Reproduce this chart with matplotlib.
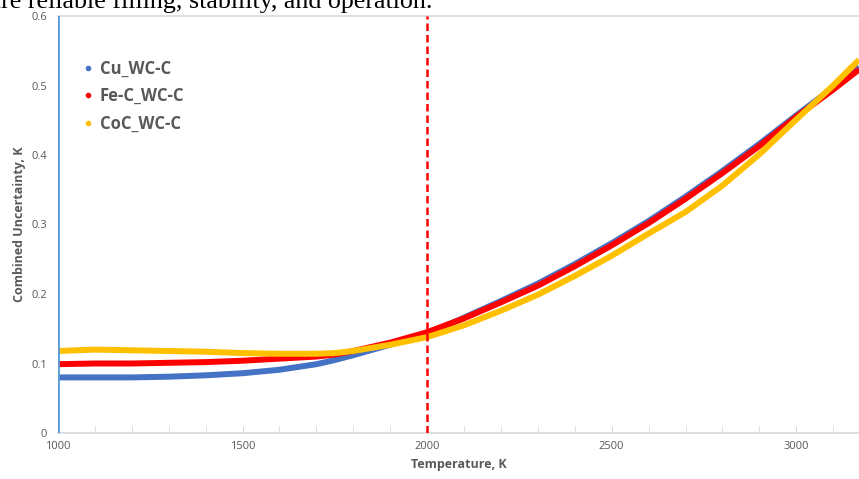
import numpy as np
from matplotlib import pyplot as plt
from matplotlib.lines import Line2D

# Combined uncertainty vs temperature for three fixed points

temps = [1000, 1100, 1200, 1300, 1400, 1500, 1600, 1700, 1750, 1800, 1900, 2000,
         2100, 2200, 2300, 2400, 2500, 2600, 2700, 2800, 2900, 3000, 3100, 3170]

cu_wc = [0.080, 0.080, 0.080, 0.081, 0.083, 0.086, 0.091, 0.099, 0.105, 0.112, 0.127, 0.142,
         0.166, 0.190, 0.215, 0.243, 0.273, 0.305, 0.340, 0.377, 0.416, 0.457, 0.497, 0.527]

fec_wc = [0.099, 0.100, 0.100, 0.101, 0.102, 0.104, 0.107, 0.110, 0.113, 0.118, 0.130, 0.145,
          0.165, 0.188, 0.212, 0.240, 0.270, 0.302, 0.337, 0.374, 0.413, 0.455, 0.494, 0.523]

coc_wc = [0.118, 0.120, 0.119, 0.118, 0.117, 0.115, 0.114, 0.114, 0.115, 0.118, 0.127, 0.138,
          0.155, 0.176, 0.199, 0.226, 0.255, 0.287, 0.318, 0.356, 0.401, 0.451, 0.500, 0.537]

labels = ['Cu_WC-C', 'Fe-C_WC-C', 'CoC_WC-C']
colours = ['#4472C4', '#FF0000', '#FFC000']

t_start = 1000
t_ref = 2000

plt.rcParams['font.family'] = ['Open Sans', 'DejaVu Sans']
grey = '#595959'

fig = plt.figure(figsize=(8.59, 4.79), dpi=100)
ax = fig.add_axes([58/859, 1-433/479, 1-58/859, (433-16)/479])

for vals, col in zip([cu_wc, fec_wc, coc_wc], colours):
    ax.plot(temps, vals, color=col, linewidth=4.3, solid_capstyle='butt',
            solid_joinstyle='round', zorder=3)

ax.axvline(t_start, color='#5B9BD5', linewidth=2, zorder=4)
ax.axvline(t_ref, color='#FF0000', linewidth=1.8, linestyle=(0, (3, 1.6)), zorder=5)

ax.set_xlim(1000, 3170)
ax.set_ylim(0, 0.6)
ax.set_xticks([1000, 1500, 2000, 2500, 3000])
ax.set_xticks(np.arange(1000, 3200, 100), minor=True)
ax.set_yticks([0, 0.1, 0.2, 0.3, 0.4, 0.5, 0.6])
ax.set_yticklabels(['0', '0.1', '0.2', '0.3', '0.4', '0.5', '0.6'])

for s in ['left', 'right']:
    ax.spines[s].set_visible(False)
ax.spines['bottom'].set_color('#D9D9D9')
ax.spines['top'].set_color('#D9D9D9')
ax.spines['bottom'].set_linewidth(1.2)
ax.spines['top'].set_linewidth(1.2)

ax.tick_params(axis='x', which='both', direction='in', length=5, color='#D9D9D9',
               labelsize=8, labelcolor=grey, pad=6)
ax.tick_params(axis='y', length=0, labelsize=8, labelcolor=grey, pad=8)

ax.set_xlabel('Temperature, K', fontsize=9, fontweight='bold', color=grey, labelpad=4)
ax.set_ylabel('Combined Uncertainty, K', fontsize=9, fontweight='bold', color=grey, labelpad=4)

handles = [Line2D([], [], marker='o', linestyle='none', markersize=3,
                  color=c) for c in colours]
leg = ax.legend(handles, labels, loc='upper left', bbox_to_anchor=(0.0125, 0.932),
                frameon=False, handlelength=0.6, handletextpad=0.4, labelspacing=0.57,
                prop={'size': 12, 'weight': 'bold'})
for t in leg.get_texts():
    t.set_color(grey)

fig.text(432/859, 1-8/479, 'ure reliable filling, stability, and operation.',
         ha='right', va='baseline', fontsize=18.7, family='Liberation Serif',
         color='black')

fig.savefig('out.png', dpi=100)
